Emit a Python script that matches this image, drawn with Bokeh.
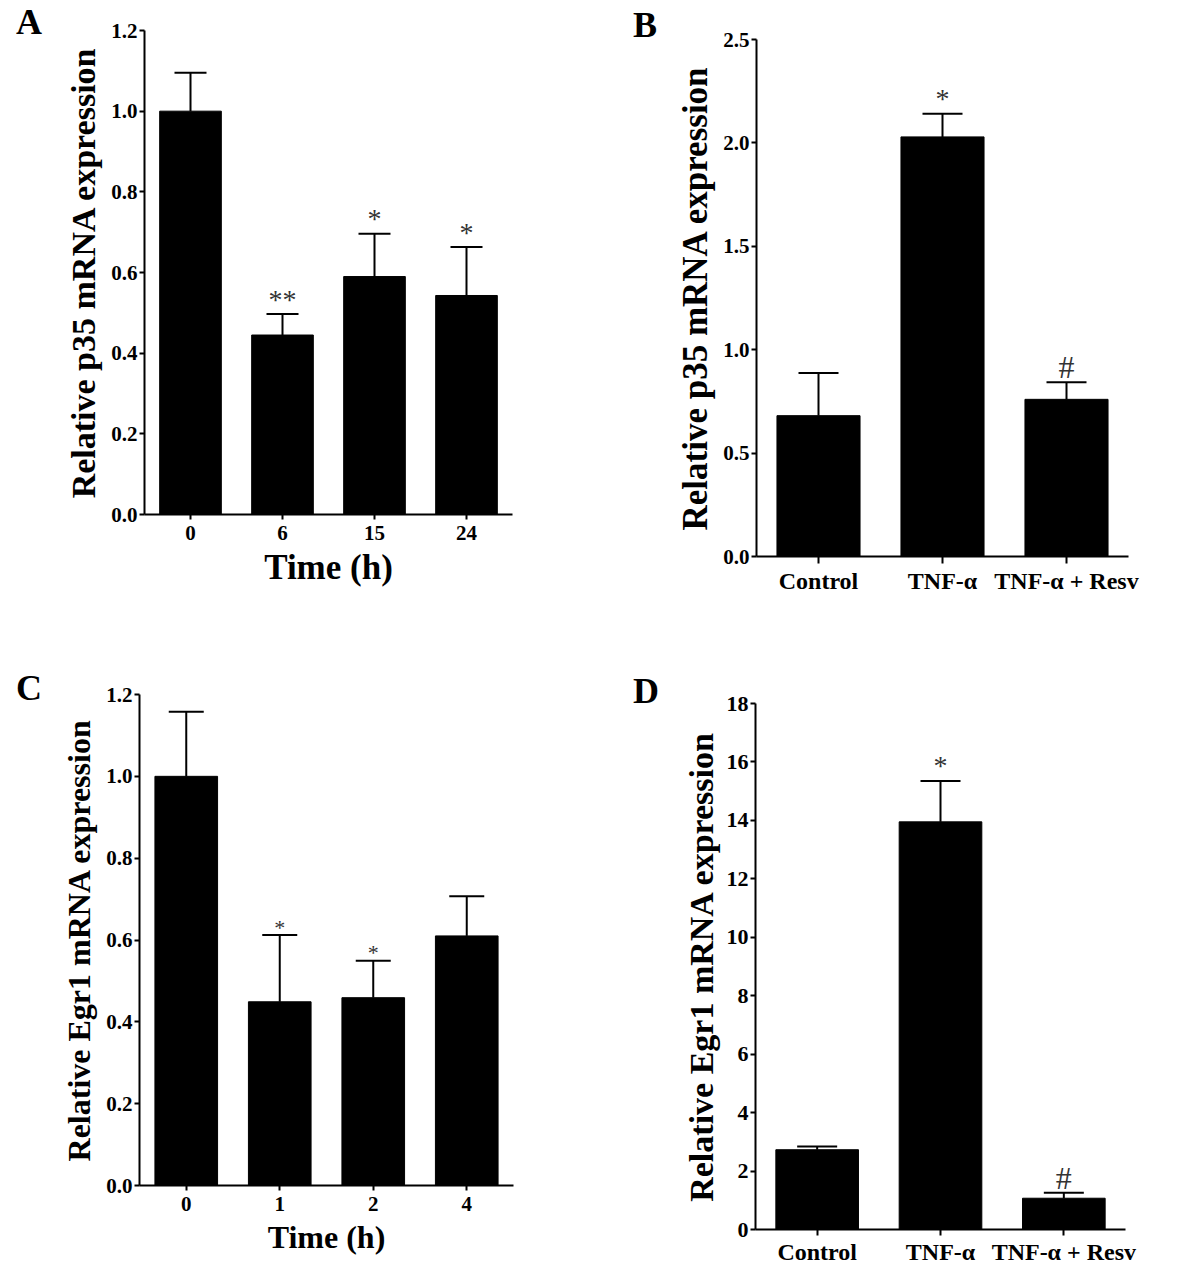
from bokeh.plotting import figure
from bokeh.models import (ColumnDataSource, FactorRange, Range1d, FixedTicker,
                          NumeralTickFormatter, Whisker, TeeHead, Div)
from bokeh.layouts import column, row
from bokeh.core.properties import value
from bokeh.embed import file_html
from bokeh.resources import INLINE

FONT = "Liberation Serif"

# ---------------- data ----------------
# Panel A: p35 mRNA vs time
a_time = ["0", "6", "15", "24"]
a_mean = [1.00, 0.445, 0.590, 0.543]
a_err = [1.095, 0.497, 0.696, 0.663]
a_sig = ["", "**", "*", "*"]
a_ticks = [0.0, 0.2, 0.4, 0.6, 0.8, 1.0, 1.2]

# Panel B: p35 mRNA by treatment
b_groups = ["Control", "TNF-α", "TNF-α + Resv"]
b_mean = [0.681, 2.029, 0.760]
b_err = [0.887, 2.141, 0.842]
b_sig = ["", "*", "#"]
b_ticks = [0.0, 0.5, 1.0, 1.5, 2.0, 2.5]

# Panel C: Egr1 mRNA vs time
c_time = ["0", "1", "2", "4"]
c_mean = [1.00, 0.449, 0.459, 0.610]
c_err = [1.158, 0.612, 0.549, 0.707]
c_sig = ["", "*", "*", ""]
c_ticks = [0.0, 0.2, 0.4, 0.6, 0.8, 1.0, 1.2]

# Panel D: Egr1 mRNA by treatment
d_groups = ["Control", "TNF-α", "TNF-α + Resv"]
d_mean = [2.73, 13.95, 1.07]
d_err = [2.84, 15.35, 1.26]
d_sig = ["", "*", "#"]
d_ticks = [0, 2, 4, 6, 8, 10, 12, 14, 16, 18]


def panel(cats, mean, err, sig, ticks, fmt, ylabel, xlabel,
          width, height, left, right, top, bottom,
          tick_fs, xtick_fs, ylab_fs, xlab_fs, cap, sig_fs, sig_off,
          y_standoff, x_standoff, x_tick_out):
    sizes = [f"{sig_fs + 4}px" if s == "#" else f"{sig_fs}px" for s in sig]
    src = ColumnDataSource(dict(cat=cats, mean=mean, err=err, sig=sig, fs=sizes))
    p = figure(x_range=FactorRange(*cats), y_range=Range1d(ticks[0], ticks[-1]),
               width=width, height=height, title=None,
               min_border_left=left, min_border_right=right,
               min_border_top=top, min_border_bottom=bottom,
               toolbar_location=None, output_backend="svg")
    p.outline_line_color = None
    p.grid.visible = False
    p.background_fill_color = "white"
    p.border_fill_color = "white"

    p.vbar(x="cat", top="mean", bottom=0, width=0.67, source=src,
           fill_color="black", line_color="black", line_width=1)
    p.add_layout(Whisker(source=src, base="cat", lower="mean", upper="err",
                         upper_head=TeeHead(size=cap, line_width=2, line_color="black"),
                         lower_head=None, line_width=2, line_color="black",
                         level="glyph"))
    p.text(x="cat", y="err", text="sig", source=src,
           text_font=value(FONT), text_font_size="fs",
           text_align="center", text_baseline="alphabetic",
           text_color="#333333", y_offset=sig_off)

    ya = p.yaxis[0]
    ya.ticker = FixedTicker(ticks=ticks)
    ya.formatter = NumeralTickFormatter(format=fmt)
    ya.axis_label = ylabel
    ya.axis_label_text_font = FONT
    ya.axis_label_text_font_style = "bold"
    ya.axis_label_text_font_size = f"{ylab_fs}px"
    ya.axis_label_text_color = "black"
    ya.axis_label_standoff = y_standoff
    ya.major_label_text_font = FONT
    ya.major_label_text_font_style = "bold"
    ya.major_label_text_font_size = f"{tick_fs}px"
    ya.major_label_text_color = "black"
    ya.major_label_standoff = 2
    ya.axis_line_width = 2
    ya.major_tick_line_width = 2
    ya.major_tick_out = 5
    ya.major_tick_in = 0
    ya.minor_tick_line_color = None

    xa = p.xaxis[0]
    if xlabel:
        xa.axis_label = xlabel
        xa.axis_label_text_font = FONT
        xa.axis_label_text_font_style = "bold"
        xa.axis_label_text_font_size = f"{xlab_fs}px"
        xa.axis_label_text_color = "black"
        xa.axis_label_standoff = 5
    xa.major_label_text_font = FONT
    xa.major_label_text_font_style = "bold"
    xa.major_label_text_font_size = f"{xtick_fs}px"
    xa.major_label_text_color = "black"
    xa.major_label_standoff = x_standoff
    xa.axis_line_width = 2
    xa.major_tick_line_width = 2
    xa.major_tick_out = x_tick_out
    xa.major_tick_in = 0
    xa.minor_tick_line_color = None
    return column(p, margin=0)


def letter(text, width, height, pad_left, pad_top):
    html = (f'<div style="font-family:\'{FONT}\'; font-size:36px; font-weight:bold; '
            f'line-height:36px; color:black; padding-left:{pad_left}px; '
            f'padding-top:{pad_top}px;">{text}</div>')
    return Div(text=html, width=width, height=height, margin=0)


pa = panel(a_time, a_mean, a_err, a_sig, a_ticks, "0.0",
           "Relative p35 mRNA expression", "Time (h)",
           546, 630, 94, 84, 30, 116,
           21, 21, 34, 35, 32, 28, -15, 6, 6, 5)
pb = panel(b_groups, b_mean, b_err, b_sig, b_ticks, "0.0",
           "Relative p35 mRNA expression", None,
           518, 630, 90, 56, 39, 74,
           21, 24, 35, 24, 40, 28, -15, 5, 4, 7)
pc = panel(c_time, c_mean, c_err, c_sig, c_ticks, "0.0",
           "Relative Egr1 mRNA expression", "Time (h)",
           546, 639, 89, 83, 64, 84,
           21, 21, 32, 32, 35, 22, -8, 6, 6, 5)
pd = panel(d_groups, d_mean, d_err, d_sig, d_ticks, "0",
           "Relative Egr1 mRNA expression", None,
           518, 639, 89, 59, 73, 40,
           22, 24, 34, 24, 40, 28, -15, 4, 3, 6)

layout = column(
    row(letter("A", 50, 630, 16, 4), pa, letter("B", 70, 630, 37, 7), pb, margin=0),
    row(letter("C", 50, 639, 16, 40), pc, letter("D", 70, 639, 37, 43), pd, margin=0),
    margin=0,
)
open("out.html", "w").write(file_html(layout, INLINE))
